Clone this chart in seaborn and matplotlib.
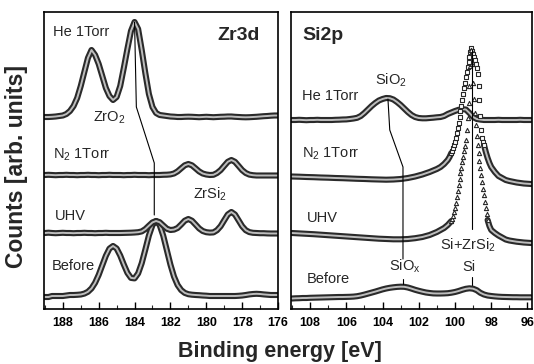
import numpy as np
import pandas as pd
import matplotlib
matplotlib.use("Agg")
import matplotlib.pyplot as plt
import matplotlib.patheffects as pe
from matplotlib.ticker import MultipleLocator
import seaborn as sns

sns.set_theme(style="ticks")
plt.rcParams['font.family'] = ['Liberation Sans', 'DejaVu Sans']
plt.rcParams['mathtext.default'] = 'regular'

# ---------------- Zr3d panel data ----------------
zr_energy = [189.0, 188.8, 188.6, 188.4, 188.2, 188.0, 187.8, 187.6, 187.4, 187.2,
             187.0, 186.8, 186.6, 186.4, 186.2, 186.0, 185.8, 185.6, 185.4, 185.2,
             185.0, 184.8, 184.6, 184.4, 184.2, 184.0, 183.8, 183.6, 183.4, 183.2,
             183.0, 182.8, 182.6, 182.4, 182.2, 182.0, 181.8, 181.6, 181.4, 181.2,
             181.0, 180.8, 180.6, 180.4, 180.2, 180.0, 179.8, 179.6, 179.4, 179.2,
             179.0, 178.8, 178.6, 178.4, 178.2, 178.0, 177.8, 177.6, 177.4, 177.2,
             177.0, 176.8, 176.6, 176.4, 176.2, 176.0]
zr_before = [11, 11, 12, 12, 12, 12, 12.5, 13, 13, 13.2,
             13.5, 14.4, 16.2, 19.6, 25.2, 33.1, 42.7, 52.2, 59.4, 62,
             59.5, 52.5, 43.5, 35.2, 30.1, 29.6, 34.6, 44.8, 58.4, 72.5,
             83, 87, 83, 72.3, 57.9, 43.4, 31.4, 23, 17.9, 15.1,
             13.8, 13.3, 13, 12.8, 12.5, 12.3, 12, 12, 12, 12,
             12, 12, 12, 12, 12.2, 12.5, 13, 13.6, 14, 14.2,
             14, 13.6, 13.3, 13, 13, 13]
zr_uhv = [75, 75.3, 75, 74.8, 75, 75.2, 75, 75, 74.8, 75,
          75, 75.2, 75, 75, 74.8, 75, 75, 75.2, 75, 75,
          75, 75, 75.1, 75.2, 75.3, 75.5, 75.8, 76.6, 78.9, 82.3,
          85.6, 87, 85.8, 82.5, 79.3, 78, 78.4, 80, 83.5, 87.3,
          89, 87.3, 83.5, 79.6, 77, 75.8, 75.4, 75.6, 77.8, 81.8,
          87.7, 93.5, 96, 93.5, 87.7, 81.8, 77.8, 75.9, 75.2, 75,
          74.8, 74.8, 74.6, 74.5, 74.5, 74.5]
zr_n2 = [133, 133.2, 133, 132.8, 133, 133, 133.2, 133, 133, 132.8,
         133, 133, 133.2, 133, 133, 132.8, 133, 133, 133.2, 133,
         133, 133, 132.8, 133, 133, 133.2, 133, 133, 133, 132.8,
         133, 133, 133, 133.2, 133.3, 133.6, 134.5, 136.6, 139.7, 142.7,
         144, 142.7, 139.7, 136.6, 134.5, 133.5, 133, 133.2, 135, 137.9,
         142.1, 146.2, 148, 146.2, 142.1, 137.9, 135, 133.4, 132.8, 132.5,
         132.5, 132.5, 132.5, 132.5, 132.5, 132.5]
zr_he = [191, 191, 191.2, 191.5, 192, 192.5, 194, 197, 202, 210,
         222, 236, 250, 258, 253, 244, 232, 220, 212, 208,
         211, 222, 240, 259, 277, 286, 279, 258, 235, 214,
         201, 195, 193, 192.5, 192, 191.5, 191.3, 191, 191, 191.2,
         191.3, 191.2, 191, 190.8, 191, 191.2, 191, 190.8, 191, 191.2,
         191.3, 191.5, 191.5, 191.2, 191, 190.8, 190.7, 190.8, 191, 191.2,
         191.5, 191.8, 192, 192.3, 192.5, 192.5]

# ---------------- Si2p panel data ----------------
si_energy = [109.0, 108.8, 108.6, 108.4, 108.2, 108.0, 107.8, 107.6, 107.4, 107.2,
             107.0, 106.8, 106.6, 106.4, 106.2, 106.0, 105.8, 105.6, 105.4, 105.2,
             105.0, 104.8, 104.6, 104.4, 104.2, 104.0, 103.8, 103.6, 103.4, 103.2,
             103.0, 102.8, 102.6, 102.4, 102.2, 102.0, 101.8, 101.6, 101.4, 101.2,
             101.0, 100.8, 100.6, 100.4, 100.2, 100.0, 99.8, 99.6, 99.4, 99.2,
             99.0, 98.8, 98.6, 98.4, 98.2, 98.0, 97.8, 97.6, 97.4, 97.2,
             97.0, 96.8, 96.6, 96.4, 96.2, 96.0, 95.8]
si_he = [188, 188, 188.2, 188, 187.8, 188, 188, 188.2, 188, 188,
         188, 188, 188.2, 188.3, 188.5, 188.6, 189, 189.5, 190.2, 192,
         195, 198.5, 202, 205, 207.5, 209, 210, 209.8, 208.5, 206,
         203, 199.5, 196, 193, 191, 190, 189.7, 189.7, 190, 190.3,
         190.7, 191, 192, 194, 195.5, 197, 198.2, 198.8, 198.5, 195,
         191, 189, 188.4, 188, 188, 188, 188, 188.2, 188, 188,
         188, 188, 188, 188.2, 188, 188, 188]
si_before = [9.5, 9.7, 9.8, 10, 10, 10.2, 10.3, 10.4, 10.5, 10.6,
             10.7, 10.8, 10.9, 11, 11, 11.1, 11.2, 11.4, 11.8, 12.5,
             13.4, 14.4, 15.4, 16.4, 17.5, 18.6, 19.5, 20.2, 20.7, 21.1,
             21.3, 21.2, 20.5, 19.4, 18.2, 17.2, 16.3, 15.5, 15, 14.6,
             14.5, 14.5, 14.6, 14.8, 15.3, 16, 17, 18.2, 19.2, 19.7,
             19.3, 17.8, 15.2, 13.5, 12.5, 12, 11.6, 11.3, 11.1, 11,
             10.9, 10.8, 10.8, 10.7, 10.7, 10.7, 10.7]

n2_energy = [109.0, 108.6, 108.2, 107.8, 107.4, 107.0, 106.6, 106.2, 105.8, 105.4,
             105.0, 104.6, 104.2, 103.8, 103.4, 103.0, 102.6, 102.2, 101.8, 101.4,
             101.0, 100.8, 100.6, 100.4, 100.3,
             100.2, 100.15, 100.1, 100.05, 100.0, 99.95, 99.9, 99.85, 99.8, 99.75,
             99.7, 99.65, 99.6, 99.55, 99.5, 99.45, 99.4, 99.35, 99.3, 99.25,
             99.2, 99.15, 99.1, 99.05, 99.0, 98.95, 98.9, 98.85, 98.8, 98.75,
             98.7, 98.65, 98.6, 98.55, 98.5, 98.45, 98.4,
             98.3, 98.2, 98.1, 98.0, 97.8, 97.6, 97.4, 97.2, 97.0, 96.6, 96.2, 95.8]
n2_counts = [131.5, 131.3, 131, 130.8, 130.5, 130.3, 130, 129.8, 129.5, 129.2,
             129, 128.7, 128.5, 128.3, 128.5, 129, 130, 131.5, 133.5, 136,
             139, 141, 144, 148, 151,
             155, 157.5, 160, 163, 166, 170, 175, 180, 185, 191,
             197, 202, 208, 214, 220, 225, 231, 236, 241, 246,
             251, 256, 260, 257, 254, 251, 248, 244, 240, 234,
             222, 208, 192, 178, 170, 166, 163,
             156, 150, 145, 141, 136, 132, 130, 128, 127, 125.5, 124.5, 124]

uhv_energy = [109.0, 108.6, 108.2, 107.8, 107.4, 107.0, 106.6, 106.2, 105.8, 105.4,
              105.0, 104.6, 104.2, 103.8, 103.4, 103.0, 102.6, 102.2, 101.8, 101.4,
              101.0, 100.8, 100.6, 100.4, 100.3,
              100.2, 100.15, 100.1, 100.05, 100.0, 99.95, 99.9, 99.85, 99.8, 99.75,
              99.7, 99.65, 99.6, 99.55, 99.5, 99.45, 99.4, 99.35, 99.3, 99.25,
              99.2, 99.15, 99.1, 99.05, 99.0, 98.95, 98.9, 98.85, 98.8, 98.75,
              98.7, 98.65, 98.6, 98.55, 98.5, 98.45, 98.4, 98.35, 98.3, 98.25, 98.2,
              98.1, 98.0, 97.8, 97.6, 97.4, 97.2, 97.0, 96.6, 96.2, 95.8]
uhv_counts = [75, 74.6, 74.2, 73.8, 73.3, 72.8, 72.3, 71.8, 71.3, 70.8,
              70.3, 69.8, 69.3, 69, 68.7, 68.7, 69, 69.8, 71, 73,
              76, 78, 80, 83, 85,
              87, 89, 92, 96, 100, 105, 111, 117, 123, 129,
              135, 140, 146, 151, 157, 162, 168, 178, 190, 205,
              222, 242, 258, 244, 225, 209, 195, 183, 172, 163,
              155, 147, 140, 133, 126, 119, 113, 106, 100, 94, 88,
              82, 78, 75, 72.5, 70.5, 68.5, 67.5, 66.3, 65.5, 65]

zr_ticks = [188, 186, 184, 182, 180, 178, 176]
si_ticks = [108, 106, 104, 102, 100, 98, 96]

# ---------------- drawing ----------------
fig = plt.figure(figsize=(5.34, 3.64), dpi=100)
axL = fig.add_axes([44 / 534, 55 / 364, 234 / 534, 297 / 364])
axR = fig.add_axes([291 / 534, 55 / 364, 241 / 534, 297 / 364])

DARK = '#2a2a2a'
LIGHT = '#bdbdbd'
band_fx = [pe.Stroke(linewidth=4.4, foreground=DARK), pe.Normal()]


def band(ax, x, y):
    df = pd.DataFrame({'E': x, 'I': y})
    sns.lineplot(data=df, x='E', y='I', ax=ax, sort=False, estimator=None,
                 color=LIGHT, lw=1.4, path_effects=band_fx, zorder=2)


for y in (zr_before, zr_uhv, zr_n2, zr_he):
    band(axL, zr_energy, y)
for y in (si_before, si_he):
    band(axR, si_energy, y)

n2e = np.array(n2_energy); n2c = np.array(n2_counts)
uhe = np.array(uhv_energy); uhc = np.array(uhv_counts)

band(axR, n2e[n2e >= 100.2], n2c[n2e >= 100.2])
band(axR, n2e[n2e <= 98.4], n2c[n2e <= 98.4])
band(axR, uhe[uhe >= 100.2], uhc[uhe >= 100.2])
band(axR, uhe[uhe <= 98.2], uhc[uhe <= 98.2])

pk = (n2e <= 100.2) & (n2e >= 98.4)
sns.scatterplot(x=n2e[pk], y=n2c[pk], ax=axR, marker='s', s=9, color='white',
                edgecolor=DARK, linewidth=0.8, zorder=3)
pk = (uhe <= 100.2) & (uhe >= 98.2)
sns.scatterplot(x=uhe[pk], y=uhc[pk], ax=axR, marker='^', s=9, color='white',
                edgecolor=DARK, linewidth=0.8, zorder=3)

# guide lines
axL.plot([184.0, 183.9, 182.9, 182.9], [286, 201, 145, 93], color='black', lw=0.8, zorder=4)
axR.plot([103.7, 103.6, 102.87, 102.87], [209, 178, 141, 49], color='black', lw=0.8, zorder=4)
axR.plot([102.87, 102.87], [29, 24], color='black', lw=0.8)
axR.plot([99.04, 99.04], [258, 79], color='black', lw=0.8, zorder=4)
axR.plot([99.08, 99.08], [31, 23], color='black', lw=0.8)

fs = 10.5
axL.text(188.55, 275.5, 'He 1Torr', fontsize=fs, va='center', ha='left')
axL.text(178.2, 273, 'Zr3d', fontsize=14, fontweight='bold', va='center', ha='center')
axL.text(186.33, 190, 'ZrO$_2$', fontsize=fs, va='center', ha='left')
axL.text(188.55, 153, 'N$_2$ 1Torr', fontsize=fs, va='center', ha='left')
axL.text(180.72, 114, 'ZrSi$_2$', fontsize=fs, va='center', ha='left')
axL.text(188.45, 92, 'UHV', fontsize=fs, va='center', ha='left')
axL.text(188.6, 42, 'Before', fontsize=fs, va='center', ha='left')

axR.text(108.44, 272.5, 'Si2p', fontsize=14, fontweight='bold', va='center', ha='left')
axR.text(104.43, 228, 'SiO$_2$', fontsize=fs, va='center', ha='left')
axR.text(108.44, 211.5, 'He 1Torr', fontsize=fs, va='center', ha='left')
axR.text(108.44, 154, 'N$_2$ 1Torr', fontsize=fs, va='center', ha='left')
axR.text(108.16, 90, 'UHV', fontsize=fs, va='center', ha='left')
axR.text(108.16, 29, 'Before', fontsize=fs, va='center', ha='left')
axR.text(102.78, 41.5, 'SiO$_x$', fontsize=fs, va='center', ha='center')
axR.text(99.27, 63, 'Si+ZrSi$_2$', fontsize=fs, va='center', ha='center')
axR.text(99.24, 41, 'Si', fontsize=fs, va='center', ha='center')

for ax, lim, ticks in ((axL, (189.05, 176.05), zr_ticks), (axR, (109.05, 95.75), si_ticks)):
    ax.set_xlim(*lim)
    ax.set_ylim(-1, 296)
    ax.set_xticks(ticks)
    ax.set_xticklabels([str(t) for t in ticks], fontweight='bold')
    ax.xaxis.set_minor_locator(MultipleLocator(1))
    ax.set_yticks([])
    ax.set_xlabel('')
    ax.set_ylabel('')
    ax.tick_params(axis='x', which='major', direction='in', length=5, width=1,
                   labelsize=9, pad=6, colors='black')
    ax.tick_params(axis='x', which='minor', direction='in', length=3, width=0.8)
    for s in ax.spines.values():
        s.set_color('black')
        s.set_linewidth(1.2)
        s.set_visible(True)
    ax.set_facecolor('white')

fig.text(280 / 534, 1 - 351 / 364, 'Binding energy [eV]', fontsize=15.5,
         fontweight='bold', ha='center', va='center')
fig.text(17 / 534, 1 - 166 / 364, 'Counts [arb. units]', fontsize=16.5,
         fontweight='bold', ha='center', va='center', rotation=90)

fig.savefig('out.png', dpi=100, facecolor='white')
